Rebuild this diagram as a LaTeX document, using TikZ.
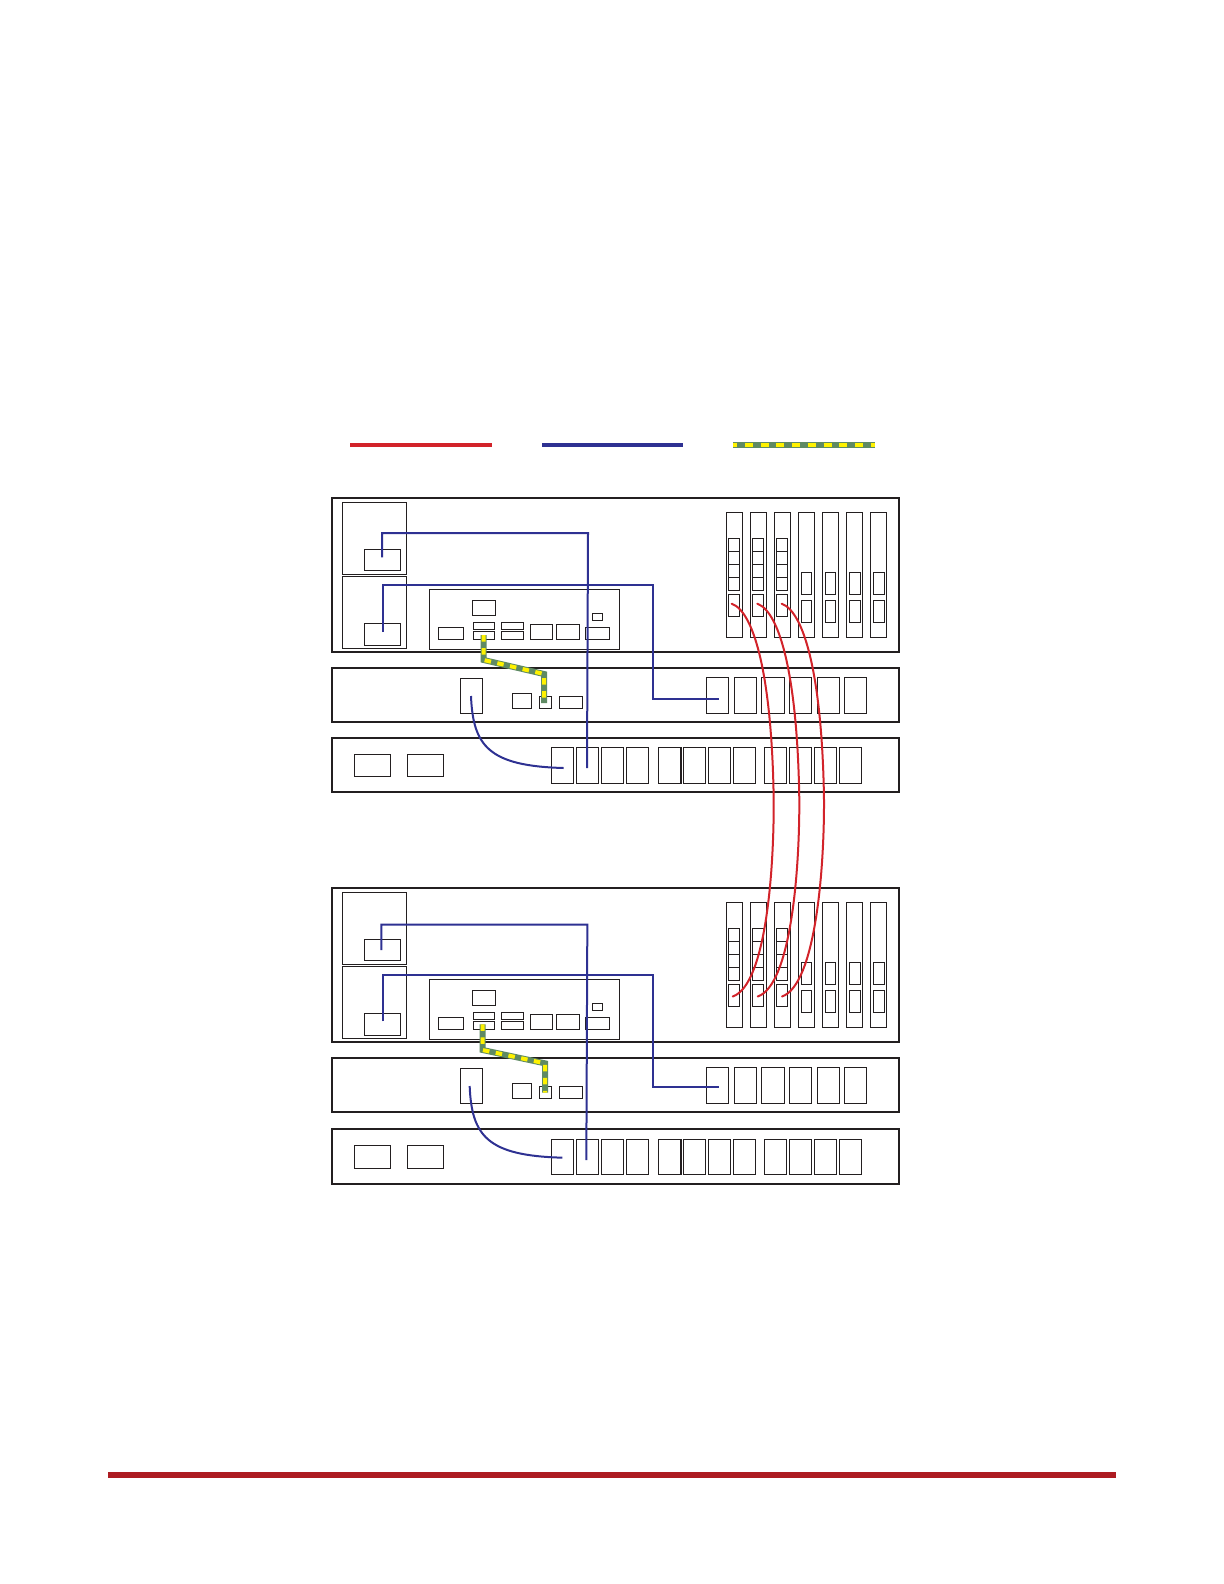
\documentclass[tikz,border=0pt]{standalone}
\usetikzlibrary{calc}
\definecolor{wirered}{HTML}{D2232A}
\definecolor{wireblue}{HTML}{2E3192}
\definecolor{wiregreen}{HTML}{5F8A63}
\definecolor{wireyellow}{HTML}{FFF200}
\definecolor{footred}{HTML}{AD1C22}
\definecolor{inkline}{HTML}{231F20}
\tikzset{
  pbox/.style={draw=inkline,line width=0.6pt,fill=none,inner sep=0pt,outer sep=0pt,rectangle},
  chassis/.style={pbox,line width=1pt},
  chassislight/.style={pbox,line width=0.85pt},
  redwire/.style={draw=wirered,line width=1pt,line cap=round},
  bluewire/.style={draw=wireblue,line width=1pt,line join=miter},
  greenwire/.style={draw=wiregreen,line width=3pt,line join=miter},
  yellowwire/.style={draw=wireyellow,line width=2pt,dash pattern=on 3.25pt off 3.25pt},
  legendred/.style={draw=wirered,line width=2pt},
  legendblue/.style={draw=wireblue,line width=2pt},
  legendgreen/.style={draw=wiregreen,line width=2.8pt},
  legendyellow/.style={draw=wireyellow,line width=1.8pt,dash pattern=on 4pt off 3.85pt,dash phase=2pt},
  footbar/.style={fill=footred,draw=none,inner sep=0pt,outer sep=0pt,rectangle}
}
% Z{style}{name}{x1}{y1}{x2}{y2}: box in zoom units (3 per pixel) from origin \ox,\oy
\newcommand{\Zb}[6]{%
  \pgfmathsetmacro{\zcx}{\ox+(#3+#5)/6}%
  \pgfmathsetmacro{\zcy}{\oy+(#4+#6)/6}%
  \pgfmathsetmacro{\zw}{(#5-#3)/6}%
  \pgfmathsetmacro{\zh}{(#6-#4)/6}%
  \node[#1,minimum width=\zw pt,minimum height=\zh pt] (#2) at (\zcx,\zcy) {};%
}
\newcommand{\Zc}[3]{%
  \pgfmathsetmacro{\zcx}{\ox+#2/3}%
  \pgfmathsetmacro{\zcy}{\oy+#3/3}%
  \coordinate (#1) at (\zcx,\zcy);%
}
\def\ox{0}\def\oy{0}
\begin{document}
\begin{tikzpicture}[x=0.5pt,y=-0.5pt]
\useasboundingbox (0,0) rectangle (1224,1584);

% ---------- upper group, left
\def\ox{320}\def\oy{420}
\Zb{chassis}{ua}{35}{234}{1738}{695}
\Zb{chassis}{ub}{35}{744}{1738}{906}
\Zb{chassis}{uc}{35}{954}{1738}{1116}
\Zb{pbox}{upsa}{67}{247}{260}{463}
\Zb{pbox}{upsb}{67}{469}{260}{686}
\Zb{pbox}{upia}{133}{388}{242}{452}
\Zb{pbox}{upib}{133}{610}{242}{677}
\Zb{pbox}{upan}{328}{508}{899}{689}
\Zb{pbox}{upa}{457}{541}{527}{587}
\Zb{pbox}{upb}{355}{622}{431}{659}
\Zb{pbox}{upc}{460}{607}{524}{629}
\Zb{pbox}{upd}{460}{634}{524}{659}
\Zb{pbox}{upe}{544}{607}{611}{629}
\Zb{pbox}{upf}{544}{634}{611}{659}
\Zb{pbox}{upg}{631}{613}{698}{659}
\Zb{pbox}{uph}{709}{613}{779}{659}
\Zb{pbox}{upi}{817}{580}{848}{602}
\Zb{pbox}{upj}{796}{622}{869}{659}
\Zb{pbox}{usa}{421}{775}{488}{881}
\Zb{pbox}{usb}{577}{820}{635}{866}
\Zb{pbox}{usc}{658}{829}{695}{866}
\Zb{pbox}{usd}{718}{829}{788}{866}
\Zb{pbox}{uta}{103}{1003}{212}{1070}
\Zb{pbox}{utb}{262}{1003}{371}{1070}
\Zb{pbox}{utc}{694}{982}{761}{1090}
\Zb{pbox}{utd}{769}{982}{836}{1090}
\Zb{pbox}{ute}{844}{982}{911}{1090}
\Zb{pbox}{utf}{919}{982}{986}{1090}
% upper group wire points
\Zc{uaa}{186}{412}\Zc{uab}{186}{339}\Zc{uac}{804}{339}\Zc{uad}{801}{1044}
\Zc{uba}{189}{636}\Zc{ubb}{189}{496}\Zc{ubc}{1000}{496}\Zc{ubd}{1000}{836}\Zc{ube}{1198}{836}
\Zc{uca}{453}{828}\Zc{ucb}{731}{1044}
\Zc{uya}{491}{645}\Zc{uyb}{491}{720}\Zc{uyc}{672}{762}\Zc{uyd}{672}{849}

% ---------- upper group, right
\def\ox{620}\def\oy{420}
\foreach \n/\a/\b in {1/319/368,2/391/440,3/463/512,4/535/584,5/607/656,6/679/728,7/751/800}{\Zb{pbox}{uslot\n}{\a}{277}{\b}{653}}
\foreach \n/\a/\b in {1/325/359,2/397/431,3/469/503}{%
  \Zb{pbox}{ums\n a}{\a}{355}{\b}{394}
  \Zb{pbox}{ums\n b}{\a}{394}{\b}{433}
  \Zb{pbox}{ums\n c}{\a}{433}{\b}{472}
  \Zb{pbox}{ums\n d}{\a}{472}{\b}{511}
  \Zb{pbox}{ums\n e}{\a}{523}{\b}{589}
}
\foreach \n/\a/\b in {4/544/575,5/616/647,6/688/722,7/760/794}{%
  \Zb{pbox}{ums\n a}{\a}{457}{\b}{523}
  \Zb{pbox}{ums\n b}{\a}{541}{\b}{607}
}
\foreach \n/\a/\b in {1/259/326,2/343/410,3/424/494,4/508/575,5/592/659,6/673/740}{\Zb{pbox}{umb\n}{\a}{772}{\b}{881}}
\foreach \n/\a/\b in {1/19/86,2/115/183,3/190/257,4/265/332,5/340/407,6/433/500,7/508/575,8/583/650,9/658/725}{\Zb{pbox}{utr\n}{\a}{982}{\b}{1090}}

% ---------- lower group, left
\def\ox{320}\def\oy{880}
\Zb{chassis}{la}{35}{23}{1738}{486}
\Zb{chassis}{lb}{35}{534}{1738}{695}
\Zb{chassislight}{lc}{35}{748}{1738}{912}
\Zb{pbox}{lpsa}{67}{37}{260}{253}
\Zb{pbox}{lpsb}{67}{259}{260}{475}
\Zb{pbox}{lpia}{133}{178}{242}{241}
\Zb{pbox}{lpib}{133}{400}{242}{466}
\Zb{pbox}{lpan}{328}{298}{899}{479}
\Zb{pbox}{lpa}{457}{331}{527}{377}
\Zb{pbox}{lpb}{355}{412}{431}{449}
\Zb{pbox}{lpc}{460}{397}{524}{419}
\Zb{pbox}{lpd}{460}{424}{524}{449}
\Zb{pbox}{lpe}{544}{397}{611}{419}
\Zb{pbox}{lpf}{544}{424}{611}{449}
\Zb{pbox}{lpg}{631}{403}{698}{449}
\Zb{pbox}{lph}{709}{403}{779}{449}
\Zb{pbox}{lpi}{817}{370}{848}{392}
\Zb{pbox}{lpj}{796}{412}{869}{449}
\Zb{pbox}{lsa}{421}{565}{488}{671}
\Zb{pbox}{lsb}{577}{610}{635}{656}
\Zb{pbox}{lsc}{658}{619}{695}{656}
\Zb{pbox}{lsd}{718}{619}{788}{656}
\Zb{pbox}{lta}{103}{797}{212}{865}
\Zb{pbox}{ltb}{262}{797}{371}{865}
\Zb{pbox}{ltc}{694}{778}{761}{884}
\Zb{pbox}{ltd}{769}{778}{836}{884}
\Zb{pbox}{lte}{844}{778}{911}{884}
\Zb{pbox}{ltf}{919}{778}{986}{884}
\Zc{laa}{184}{210}\Zc{lab}{184}{134}\Zc{lac}{802}{134}\Zc{lad}{799}{840}
\Zc{lba}{188}{424}\Zc{lbb}{188}{286}\Zc{lbc}{1000}{286}\Zc{lbd}{1000}{620}\Zc{lbe}{1198}{620}
\Zc{lca}{449}{618}\Zc{lcb}{727}{833}
\Zc{lya}{488}{433}\Zc{lyb}{488}{510}\Zc{lyc}{675}{550}\Zc{lyd}{675}{638}

% ---------- lower group, right
\def\ox{620}\def\oy{880}
\foreach \n/\a/\b in {1/319/368,2/391/440,3/463/512,4/535/584,5/607/656,6/679/728,7/751/800}{\Zb{pbox}{lslot\n}{\a}{67}{\b}{443}}
\foreach \n/\a/\b in {1/325/359,2/397/431,3/469/503}{%
  \Zb{pbox}{lms\n a}{\a}{145}{\b}{184}
  \Zb{pbox}{lms\n b}{\a}{184}{\b}{223}
  \Zb{pbox}{lms\n c}{\a}{223}{\b}{262}
  \Zb{pbox}{lms\n d}{\a}{262}{\b}{301}
  \Zb{pbox}{lms\n e}{\a}{313}{\b}{379}
}
\foreach \n/\a/\b in {4/544/575,5/616/647,6/688/722,7/760/794}{%
  \Zb{pbox}{lms\n a}{\a}{247}{\b}{313}
  \Zb{pbox}{lms\n b}{\a}{331}{\b}{397}
}
\foreach \n/\a/\b in {1/259/326,2/343/410,3/424/494,4/508/575,5/592/659,6/673/740}{\Zb{pbox}{lmb\n}{\a}{562}{\b}{671}}
\foreach \n/\a/\b in {1/19/86,2/115/183,3/190/257,4/265/332,5/340/407,6/433/500,7/508/575,8/583/650,9/658/725}{\Zb{pbox}{ltr\n}{\a}{778}{\b}{884}}

% ---------- legend
\coordinate (lgra) at (350,445); \coordinate (lgrb) at (492,445);
\coordinate (lgba) at (542,445); \coordinate (lgbb) at (683,445);
\coordinate (lgya) at (733.3,445); \coordinate (lgyb) at (875,445);
\draw[legendred] (lgra) -- (lgrb);
\draw[legendblue] (lgba) -- (lgbb);
\draw[legendgreen] (lgya) -- (lgyb);
\draw[legendyellow] (lgya) -- (lgyb);

% ---------- yellow/green cables
\draw[greenwire] (uya) -- (uyb) -- (uyc) -- (uyd);
\draw[yellowwire] (uya) -- (uyb) -- (uyc) -- (uyd);
\draw[greenwire] (lya) -- (lyb) -- (lyc) -- (lyd);
\draw[yellowwire] (lya) -- (lyb) -- (lyc) -- (lyd);

% ---------- blue cables
\draw[bluewire] (uaa) -- (uab) -- (uac) -- (uad);
\draw[bluewire] (uba) -- (ubb) -- (ubc) -- (ubd) -- (ube);
\draw[bluewire] (uca) .. controls ($(uca)+(2,50)$) and ($(ucb)+(-75,-2)$) .. (ucb);
\draw[bluewire] (laa) -- (lab) -- (lac) -- (lad);
\draw[bluewire] (lba) -- (lbb) -- (lbc) -- (lbd) -- (lbe);
\draw[bluewire] (lca) .. controls ($(lca)+(2,50)$) and ($(lcb)+(-75,-2)$) .. (lcb);

% ---------- red cables
\foreach \n/\xa/\xb/\xc in {1/731.7/732.7/773.7,2/757.3/757.7/799.3,3/781.7/782/824}{%
  \coordinate (rs\n) at (\xa,603.7);
  \coordinate (rm\n) at (\xc,800);
  \coordinate (re\n) at (\xb,996.5);
  \draw[redwire] (rs\n) .. controls ($(rs\n)+(23.3,8.3)$) and ($(rm\n)+(-1.7,-120)$) .. (rm\n)
     .. controls ($(rm\n)+(0.3,70)$) and ($(re\n)+(33.3,-11.5)$) .. (re\n);
}

% ---------- footer rule
\coordinate (fa) at (108,1471.7);
\coordinate (fb) at (1116,1477.7);
\fill[footred] (fa) rectangle (fb);
\end{tikzpicture}
\end{document}
